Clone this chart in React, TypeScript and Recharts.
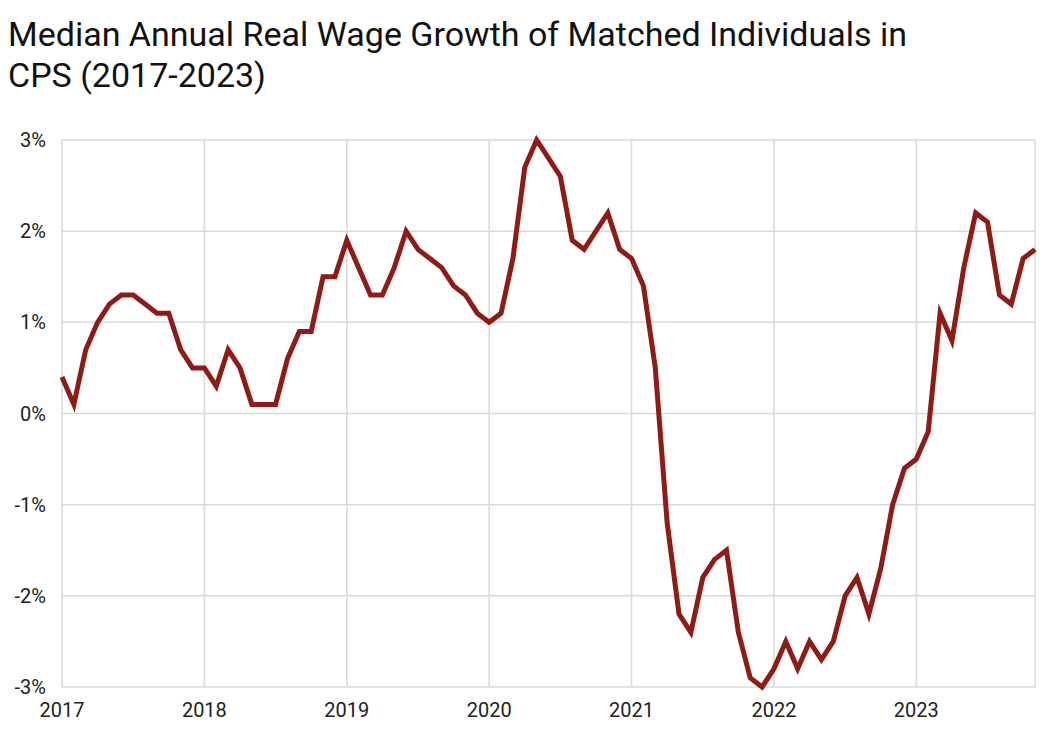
import { LineChart, Line, XAxis, YAxis, CartesianGrid } from "recharts";

// monthly, Jan 2017 .. Nov 2023
const growth2017 = [0.4, 0.1, 0.7, 1.0, 1.2, 1.3, 1.3, 1.2, 1.1, 1.1, 0.7, 0.5];
const growth2018 = [0.5, 0.3, 0.7, 0.5, 0.1, 0.1, 0.1, 0.6, 0.9, 0.9, 1.5, 1.5];
const growth2019 = [1.9, 1.6, 1.3, 1.3, 1.6, 2.0, 1.8, 1.7, 1.6, 1.4, 1.3, 1.1];
const growth2020 = [1.0, 1.1, 1.7, 2.7, 3.0, 2.8, 2.6, 1.9, 1.8, 2.0, 2.2, 1.8];
const growth2021 = [1.7, 1.4, 0.5, -1.2, -2.2, -2.4, -1.8, -1.6, -1.5, -2.4, -2.9, -3.0];
const growth2022 = [-2.8, -2.5, -2.8, -2.5, -2.7, -2.5, -2.0, -1.8, -2.2, -1.7, -1.0, -0.6];
const growth2023 = [-0.5, -0.2, 1.1, 0.8, 1.6, 2.2, 2.1, 1.3, 1.2, 1.7, 1.8];

const years = [2017, 2018, 2019, 2020, 2021, 2022, 2023];
const yTicks = [-3, -2, -1, 0, 1, 2, 3];

const values = [
  ...growth2017, ...growth2018, ...growth2019, ...growth2020,
  ...growth2021, ...growth2022, ...growth2023,
];
const data = values.map((v, i) => ({ m: i, v }));
const xTicks = years.map((_, i) => i * 12);

const tickStyle = { fontSize: 20, fill: "#222", fontFamily: "Roboto, sans-serif" };

export default function App() {
  return (
    <div style={{ position: "relative", width: 1043, height: 735, fontFamily: "Roboto, sans-serif" }}>
      <div
        style={{
          position: "absolute",
          top: 6,
          left: 0,
          fontSize: 34,
          lineHeight: "41px",
          color: "#111",
          width: 1030,
        }}
      >
        Median Annual Real Wage Growth of Matched Individuals in
        <br />
        CPS (2017-2023)
      </div>
      <div style={{ position: "absolute", top: 0, left: 0 }}>
        <LineChart width={1043} height={735} data={data} margin={{ top: 132, right: 16, bottom: 26, left: 0 }}>
          <CartesianGrid stroke="#d9d9d9" strokeWidth={1.5} />
          <XAxis
            dataKey="m"
            type="number"
            domain={[0, 82]}
            ticks={xTicks}
            tickFormatter={(t) => String(years[t / 12])}
            tick={tickStyle}
            tickLine={false}
            axisLine={false}
            height={30}
            tickMargin={10}
          />
          <YAxis
            type="number"
            domain={[-3, 3]}
            ticks={yTicks}
            tickFormatter={(t) => `${t}%`}
            tick={tickStyle}
            tickLine={false}
            axisLine={false}
            width={54}
            tickMargin={10}
          />
          <Line
            dataKey="v"
            stroke="#8e1b16"
            strokeWidth={5}
            dot={false}
            strokeLinejoin="miter"
            isAnimationActive={false}
          />
        </LineChart>
      </div>
    </div>
  );
}
